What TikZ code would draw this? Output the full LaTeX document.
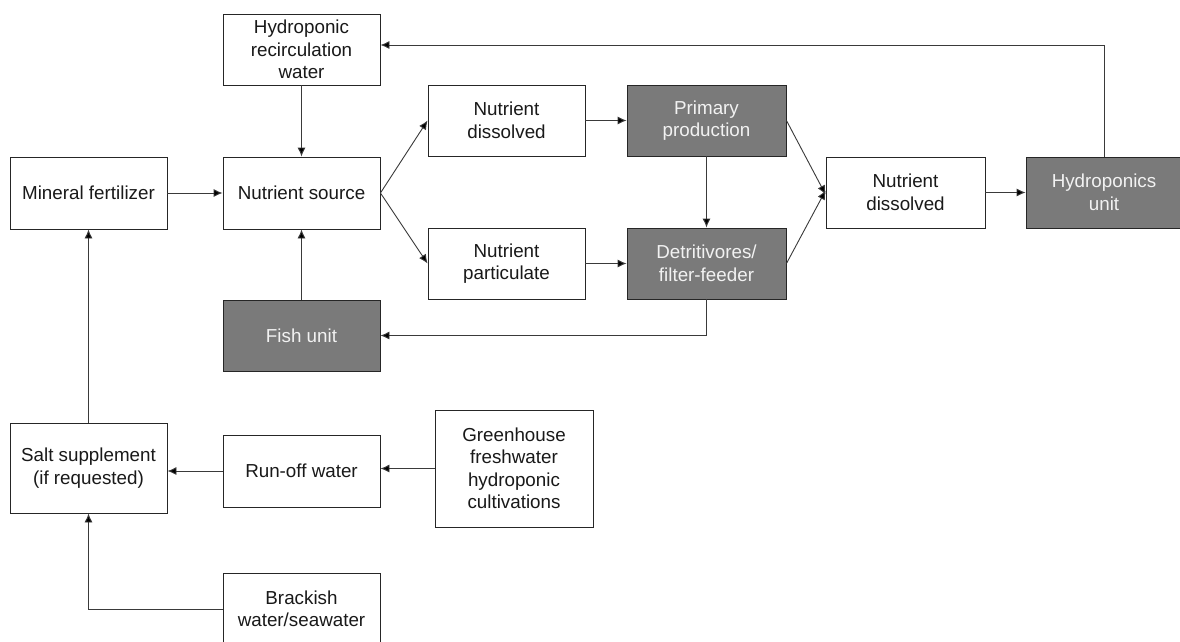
\documentclass[tikz,border=0pt]{standalone}
\usepackage{fontspec}
\setmainfont{Liberation Sans}
\usetikzlibrary{arrows.meta}
\definecolor{darkbox}{HTML}{7A7A7A}
\definecolor{linegray}{HTML}{3A3A3A}
\begin{document}
\begin{tikzpicture}[x=1pt,y=-1pt,
  box/.style={draw=black!85, line width=0.9pt, rectangle, inner sep=0pt, align=center,
    font=\fontsize{18.8}{22.5}\selectfont, text=black!90},
  darkbox/.style={box, fill=darkbox, text=white!95!black},
  conn/.style={draw=linegray, line width=0.9pt, -{Latex[length=9pt,width=8pt,fill=black]}},
  plain/.style={draw=linegray, line width=0.9pt}]
\clip (0,0) rectangle (1180,642);
\fill[white] (0,0) rectangle (1180,642);

\node[box, minimum width=157, minimum height=71] (recirc) at (301.5,49.5) {Hydroponic\\recirculation\\water};
\node[box, minimum width=157, minimum height=72] (mineral) at (88.5,193) {Mineral fertilizer};
\node[box, minimum width=157, minimum height=72] (source) at (301.5,193) {Nutrient source};
\node[box, minimum width=157, minimum height=71] (nd1) at (506.5,120.5) {Nutrient\\dissolved};
\node[darkbox, minimum width=159, minimum height=71] (pp) at (706.5,120.5) {Primary\\production};
\node[box, minimum width=157, minimum height=71] (np) at (506.5,263.5) {Nutrient\\particulate};
\node[darkbox, minimum width=159, minimum height=71] (det) at (706.5,263.5) {Detritivores/\\filter-feeder};
\node[darkbox, minimum width=157, minimum height=71] (fish) at (301.5,335.5) {Fish unit};
\node[box, minimum width=159, minimum height=71] (nd2) at (905.5,192.5) {Nutrient\\dissolved};
\node[darkbox, minimum width=156, minimum height=71] (hu) at (1104,192.5) {Hydroponics\\unit};
\node[box, minimum width=157, minimum height=90] (salt) at (88.5,468) {Salt supplement\\(if requested)};
\node[box, minimum width=157, minimum height=72] (runoff) at (301.5,471) {Run-off water};
\node[box, minimum width=158, minimum height=117] (green) at (514,468.5) {Greenhouse\\freshwater\\hydroponic\\cultivations};
\node[box, minimum width=157, minimum height=72] (brack) at (301.5,609) {Brackish\\water/seawater};

\draw[conn] (salt.north) -- (mineral.south);
\draw[conn] (brack.west) -| (salt.south);
\draw[conn] (runoff.west) -- (runoff.west -| salt.east);
\draw[conn] (green.west) -- (green.west -| runoff.east);
\draw[conn] (det.south) |- (fish.east);
\draw[conn] (fish.north) -- (source.south);
\draw[conn] (recirc.south) -- (source.north);
\draw[conn] (mineral.east) -- (source.west);
\draw[conn] (source.east) -- (nd1.west);
\draw[conn] (source.east) -- (np.west);
\draw[conn] (nd1.east) -- (pp.west);
\draw[conn] (np.east) -- (det.west);
\draw[conn] (pp.south) -- (det.north);
\draw[conn] (pp.east) -- ([yshift=-2pt]nd2.west);
\draw[conn] (det.east) -- ([yshift=2pt]nd2.west);
\draw[conn] (nd2.east) -- (hu.west);
\coordinate (topturn) at (1104,45);
\draw[conn] (hu.north) -- (topturn) -- (topturn -| recirc.east);
\end{tikzpicture}
\end{document}
